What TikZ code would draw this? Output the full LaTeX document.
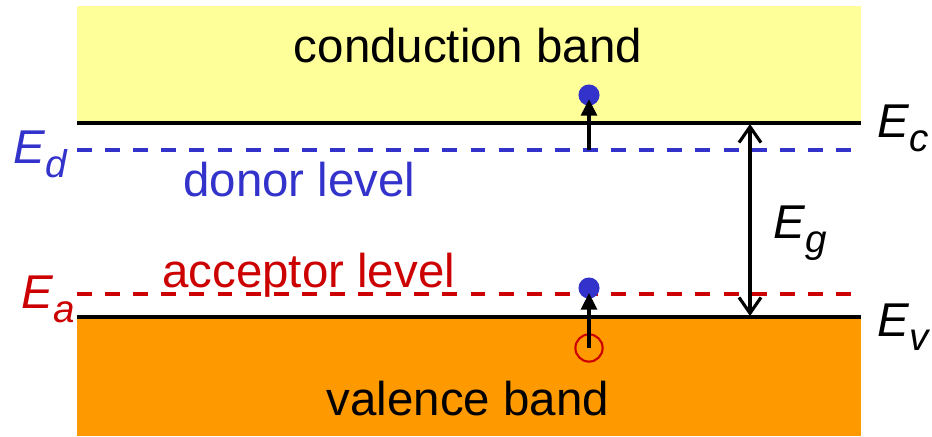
\documentclass[tikz,border=0pt]{standalone}
\usepackage{fontspec}
\setmainfont{Liberation Sans}
\usetikzlibrary{arrows.meta, positioning}
\definecolor{condyellow}{HTML}{FFFF99}
\definecolor{valorange}{HTML}{FF9900}
\definecolor{donorblue}{HTML}{3333CC}
\definecolor{accred}{HTML}{CC0000}
\newcommand{\enlvl}[2]{\textit{#1}\raisebox{-8pt}{\fontsize{22}{26}\selectfont\textit{#2}}}
\tikzset{
  bandedge/.style={line width=2.3pt, color=black},
  level/.style={dash pattern=on 8.5pt off 7.5pt, line width=1.8pt},
  hop/.style={-{Triangle[length=9.5pt, width=9pt]}, line width=2pt},
  gaparrow/.style={{Straight Barb[length=9pt, width=12.5pt]}-{Straight Barb[length=9pt, width=12.5pt]}, line width=1.8pt},
  electron/.style={circle, fill=donorblue, minimum size=12pt, inner sep=0pt},
  hole/.style={circle, draw=accred, line width=1.2pt, minimum size=15.5pt, inner sep=0pt},
  every node/.append style={font=\fontsize{27}{32}\selectfont, inner sep=0pt}
}

\begin{document}
\begin{tikzpicture}[x=0.02cm, y=-0.02cm]
\useasboundingbox (0,0) rectangle (932,436);
% bands
\fill[condyellow] (77,6) rectangle (861,123);
\fill[valorange] (77,317) rectangle (861,436);
\node[anchor=base] (cb) at (468,62) {conduction band};
\node[anchor=base] (vb) at (468,415) {valence band};
% impurity levels
\draw[level, donorblue] (77,150) -- (851,150);
\draw[level, accred] (77,294) -- (851,294);
\node[anchor=base west, text=donorblue] (dl) at (183,196) {donor level};
\node[anchor=base west, text=accred] (al) at (162,287) {acceptor level};
% band edges
\draw[bandedge] (77,123) -- (861,123);
\draw[bandedge] (77,317) -- (861,317);
\node[anchor=base west] (Ec) at (877,137) {\enlvl{E}{c}};
\node[anchor=base west] (Ev) at (877,336) {\enlvl{E}{v}};
\node[anchor=base west, text=donorblue] (Ed) at (13,163) {\enlvl{E}{d}};
\node[anchor=base west, text=accred] (Ea) at (21,308) {\enlvl{E}{a}};
% gap
\coordinate (ctop) at (750,124);
\coordinate (vtop) at (750,316);
\draw[gaparrow] (ctop) -- (vtop);
\node[anchor=base west] (Eg) at (773,238) {\enlvl{E}{g}};
% carriers
\coordinate (dsite) at (589,150);
\node[electron] (econd) at (589,95) {};
\node[electron] (eacc) at (589,288) {};
\node[hole] (vhole) at (589,348) {};
\draw[hop, shorten >=2.3pt] (dsite) -- (econd.center);
\draw[hop, shorten >=2.8pt] (vhole.center) -- (eacc.center);
\end{tikzpicture}
\end{document}
